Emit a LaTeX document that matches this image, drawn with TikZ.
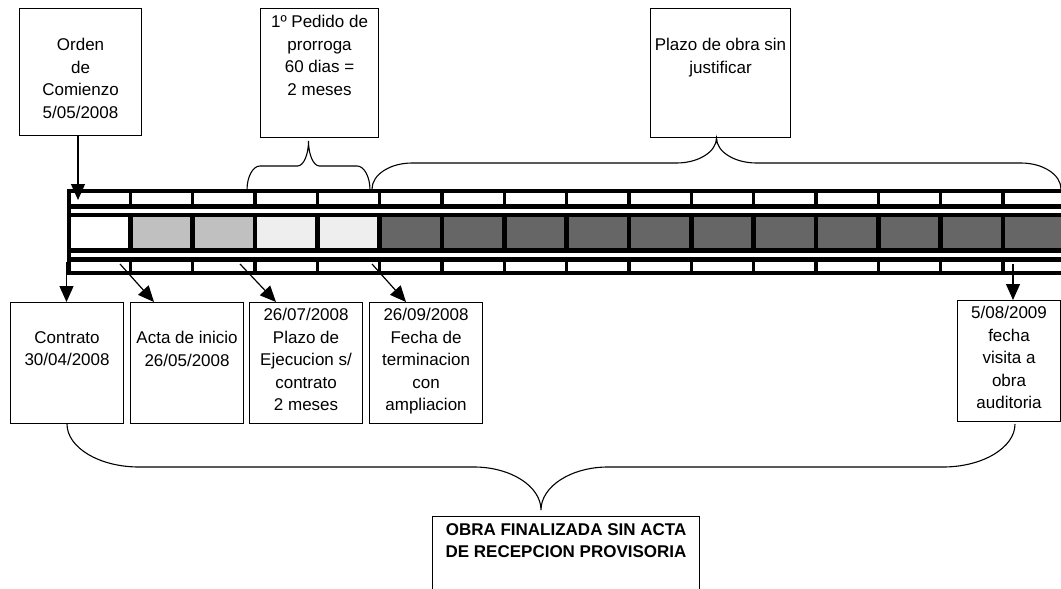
\documentclass[tikz,border=0pt]{standalone}
\usepackage{fontspec}
\setmainfont{Liberation Sans}
\usetikzlibrary{arrows.meta}
\definecolor{cellgrey}{HTML}{C0C0C0}
\definecolor{celldots}{HTML}{EEEEEE}
\definecolor{celldark}{HTML}{666666}
\tikzset{
  box/.style = {draw, line width=1.1pt, inner sep=0pt, anchor=north west},
  link/.style = {line width=1.2pt, arrows={-Triangle[width=14pt, length=16pt]}},
  band/.style = {line width=4.5pt},
  cell divider/.style = {line width=3.2pt},
  bar divider/.style = {line width=4.5pt},
  brace line/.style = {line width=1.1pt},
}
\newcommand{\boxtext}[4]{%
  %% Text of a box, set from its top:
  %%    1. Width
  %%    2. Height
  %%    3. Space above the first line
  %%    4. Lines
  \parbox[c][#2][t]{#1}{\centering\vspace*{#3}#4}%
}
\newcommand{\curlybrace}[7]{%
  %% Curly brace, tip half way between its ends:
  %%    1./2. x of the ends, 3. y of the ends, 4. y of the middle part,
  %%    5. y of the tip, 6. width of the end curves, 7. width of the tip curves
  \pgfmathsetmacro{\tipx}{(#1+#2)/2}
  \pgfmathsetmacro{\endy}{#3+0.55*(#4-#3)}
  \pgfmathsetmacro{\tipy}{#5+0.55*(#4-#5)}
  \draw [brace line] (#1,#3) .. controls (#1,\endy) and (#1+0.45*#6,#4) .. (#1+#6,#4)
    -- (\tipx-#7,#4) .. controls (\tipx-0.45*#7,#4) and (\tipx,\tipy) .. (\tipx,#5)
    .. controls (\tipx,\tipy) and (\tipx+0.45*#7,#4) .. (\tipx+#7,#4)
    -- (#2-#6,#4) .. controls (#2-0.45*#6,#4) and (#2,\endy) .. (#2,#3);
}

\begin{document}
\begin{tikzpicture}[x=1pt, y=-1pt, every node/.style={font=\fontsize{17}{22.5}\selectfont}]
  \useasboundingbox (0,0) rectangle (1061,589);
  \clip (0,0) rectangle (1061,589);

  %% Cells of the middle row
  \foreach \k in {1,2}
    \fill [cellgrey] (68+62.33*\k,215) rectangle (68+62.33*\k+62.33,250.5);
  \foreach \k in {3,4}
    \fill [celldots] (68+62.33*\k,215) rectangle (68+62.33*\k+62.33,250.5);
  \foreach \k in {5,...,15}
    \fill [celldark] (68+62.33*\k,215) rectangle (68+62.33*\k+62.33,250.5);

  %% Lines of the time bar
  \foreach \y in {191,206.5,215,250.5,259.5,273}
    \draw [band] (67,\y) -- (1070,\y);
  \draw [band] (69,188.75) -- (69,275.25);
  \foreach \k in {1,...,15}{%
    \draw [cell divider] (68+62.33*\k,191) -- ++(0,15.5);
    \draw [bar divider] (68+62.33*\k,215) -- ++(0,35.5);
    \draw [cell divider] (68+62.33*\k,259.5) -- ++(0,13.5);
  }

  %% Points of the bar that the arrows start from
  \coordinate (t_comienzo) at (78,200);
  \coordinate (t_contrato) at (66.5,262);
  \coordinate (t_inicio) at (120,264);
  \coordinate (t_plazo) at (240,264);
  \coordinate (t_fin) at (372,264);
  \coordinate (t_visita) at (1013,264);

  %% Boxes above the bar
  \node [box] (orden) at (19,8)
    {\boxtext{122pt}{127pt}{30pt}{Orden\\de\\Comienzo\\5/05/2008}};
  \node [box] (pedido) at (260,8)
    {\boxtext{118pt}{129pt}{7pt}{1º Pedido de\\prorroga\\60 dias =\\2 meses}};
  \node [box] (plazo) at (650,8)
    {\boxtext{140pt}{129pt}{30pt}{Plazo de obra sin\\justificar}};

  %% Boxes below the bar
  \node [box] (contrato) at (10,302)
    {\boxtext{113pt}{121pt}{29pt}{Contrato\\30/04/2008}};
  \node [box] (acta) at (130,302)
    {\boxtext{113pt}{121pt}{29pt}{Acta de inicio\\26/05/2008}};
  \node [box] (ejecucion) at (249,302)
    {\boxtext{113pt}{121pt}{6pt}{26/07/2008\\Plazo de\\Ejecucion s/\\contrato\\2 meses}};
  \node [box] (terminacion) at (369,302)
    {\boxtext{113pt}{121pt}{6pt}{26/09/2008\\Fecha de\\terminacion\\con\\ampliacion}};
  \node [box] (visita) at (957,300)
    {\boxtext{103pt}{121pt}{6pt}{5/08/2009\\fecha\\visita a\\obra\\auditoria}};
  \node [box] (obra) at (432,516)
    {\boxtext{267pt}{100pt}{7pt}{\bfseries OBRA FINALIZADA SIN ACTA\\DE RECEPCION PROVISORIA}};

  %% Arrows
  \draw [link] (orden.south -| t_comienzo) -- (t_comienzo);
  \draw [link] (t_contrato) -- (t_contrato |- contrato.north);
  \draw [link] (t_inicio) -- ([xshift=24pt] acta.north west);
  \draw [link] (t_plazo) -- ([xshift=27pt] ejecucion.north west);
  \draw [link] (t_fin) -- ([xshift=37pt] terminacion.north west);
  \draw [link] (t_visita) -- (t_visita |- visita.north);

  %% Braces
  \curlybrace{247}{370}{190}{166}{141}{13}{11}
  \curlybrace{372}{1061}{189}{163}{138}{40}{40}
  \curlybrace{67}{1015}{424}{467}{510}{72}{67}
\end{tikzpicture}
\end{document}
